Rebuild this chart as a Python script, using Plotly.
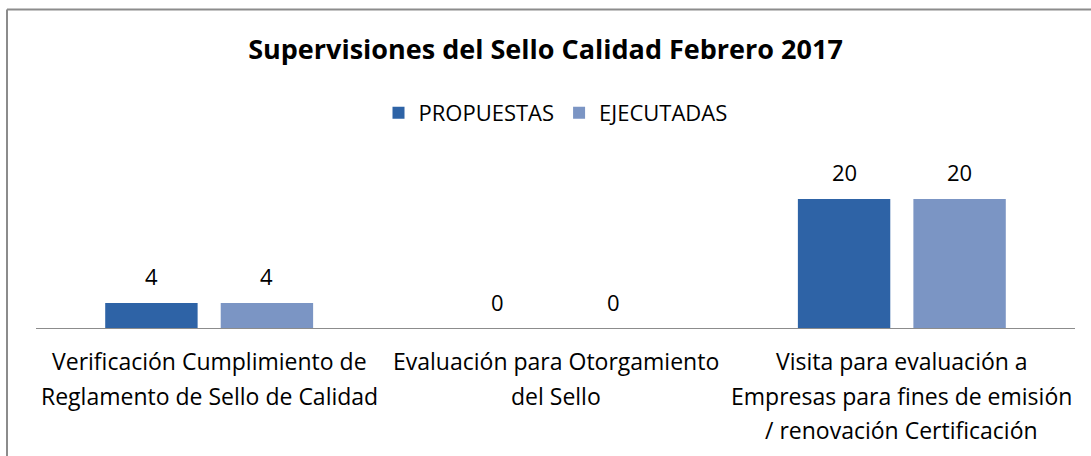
import plotly.graph_objects as go

categories = [
    "Verificación Cumplimiento de<br>Reglamento de Sello de Calidad",
    "Evaluación para Otorgamiento<br>del Sello",
    "Visita para evaluación a<br>Empresas para fines de emisión<br>/ renovación Certificación",
]
propuestas = [4, 0, 20]
ejecutadas = [4, 0, 20]
series_names = ["PROPUESTAS", "EJECUTADAS"]
title_text = "Supervisiones del Sello Calidad Febrero 2017"

FONT = "Open Sans"
W, H = 1091, 456
ml, mr, mt, mb = 36, 16, 150, 127
ymax = (H - mt - mb) / 6.5
pw = W - ml - mr
ph = H - mt - mb

c1 = "#2E63A6"
c2 = "#7B95C4"

fig = go.Figure()
fig.add_trace(go.Bar(x=list(range(3)), y=propuestas, name=series_names[0],
                     marker=dict(color=c1, line=dict(width=0))))
fig.add_trace(go.Bar(x=list(range(3)), y=ejecutadas, name=series_names[1],
                     marker=dict(color=c2, line=dict(width=0))))

annotations = []
# data labels
for vals, shift in ((propuestas, -57.7), (ejecutadas, 57.7)):
    for i, v in enumerate(vals):
        annotations.append(dict(x=i, y=v, xref="x", yref="y", text=str(v),
                                showarrow=False, xshift=shift, yshift=27,
                                yanchor="middle",
                                font=dict(family=FONT, size=22, color="#000")))
# category labels, one annotation per line
for i, cat in enumerate(categories):
    for j, line in enumerate(cat.split("<br>")):
        annotations.append(dict(x=i, y=0, xref="x", yref="y", text=line,
                                showarrow=False, yanchor="middle",
                                yshift=-32 - 34.5 * j,
                                font=dict(family=FONT, size=23, color="#000")))

fig.update_layout(
    width=W, height=H,
    margin=dict(l=ml, r=mr, t=mt, b=mb),
    paper_bgcolor="white", plot_bgcolor="white",
    title=dict(text="<b>" + title_text + "</b>", x=0.5, xanchor="center",
               y=1 - 50 / H, yanchor="middle",
               font=dict(family=FONT, size=27, color="#000")),
    legend=dict(orientation="h", x=0.5, xanchor="center", y=1 - 113 / H,
                yref="container", yanchor="middle",
                font=dict(family=FONT, size=22, color="#000"),
                itemwidth=30, traceorder="normal"),
    barmode="group", bargap=0.333, bargroupgap=0.2,
    xaxis=dict(range=[-0.5, 2.5], showticklabels=False, showgrid=False,
               zeroline=False, showline=False, ticks=""),
    yaxis=dict(range=[0, ymax], visible=False, showgrid=False, zeroline=False),
    annotations=annotations,
    shapes=[
        dict(type="line", xref="paper", yref="y", x0=0, x1=1, y0=0, y1=0,
             line=dict(color="#8C8C8C", width=2)),
        dict(type="line", xref="paper", yref="paper",
             x0=(7 - ml) / pw, x1=(W + 5 - ml) / pw,
             y0=1 + (mt - 9.5) / ph, y1=1 + (mt - 9.5) / ph,
             line=dict(color="#8C8C8C", width=2)),
        dict(type="line", xref="paper", yref="paper",
             x0=(7 - ml) / pw, x1=(7 - ml) / pw,
             y0=1 + (mt - 9.5) / ph, y1=-(mb + 5) / ph,
             line=dict(color="#8C8C8C", width=2)),
    ],
    showlegend=True,
)

fig.write_html("out.html", config={"displayModeBar": False},
               post_script="document.body.style.margin='0';document.body.style.overflow='hidden';")
